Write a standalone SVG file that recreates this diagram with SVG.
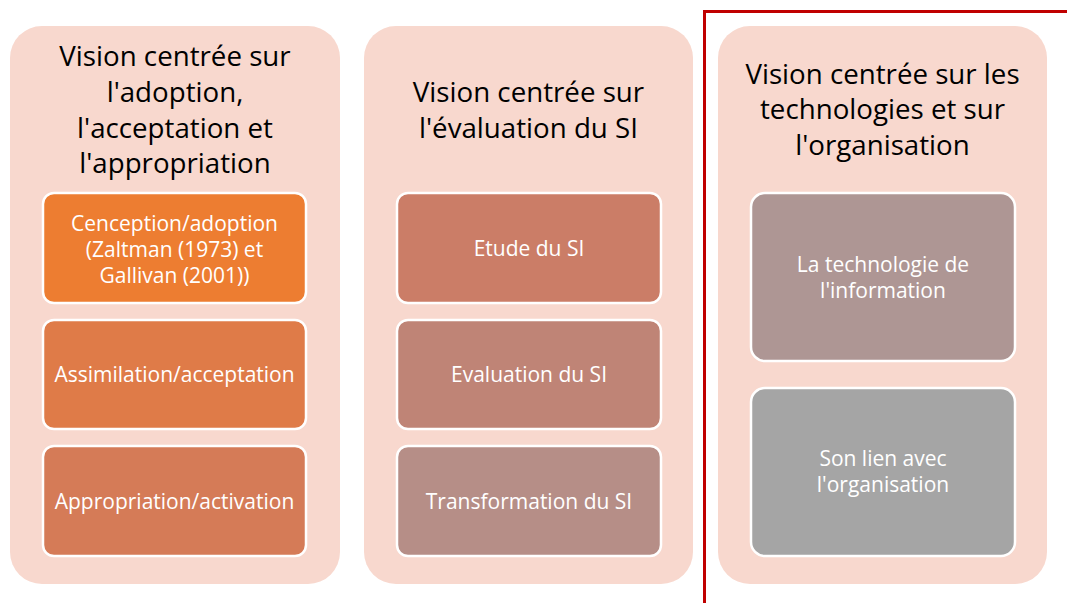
<svg xmlns="http://www.w3.org/2000/svg" width="1067" height="603" viewBox="0 0 1067 603">
<style>
.panel{fill:#F8D8CE}
.box{stroke:#FFFFFF;stroke-width:2.5}
.title{font-family:"Open Sans",Lato,sans-serif;font-size:27.7px;fill:#000;text-anchor:middle}
.lbl{font-family:"Open Sans",Lato,sans-serif;font-size:21px;fill:#FFFFFF;text-anchor:middle}
</style>
<rect width="1067" height="603" fill="#FFFFFF"/>
<g id="col1">
<rect class="panel" x="10" y="26" width="330" height="558" rx="32"/>
<text class="title"><tspan x="175" y="66">Vision centrée sur</tspan><tspan x="175" y="102">l'adoption,</tspan><tspan x="175" y="138">l'acceptation et</tspan><tspan x="175" y="173">l'appropriation</tspan></text>
</g>
<g id="n1a"><rect class="box" x="43" y="193" width="263" height="110" rx="11" fill="#ED7D31"/>
<text class="lbl"><tspan x="174.5" y="231">Cenception/adoption</tspan><tspan x="174.5" y="257">(Zaltman (1973) et</tspan><tspan x="174.5" y="283">Gallivan (2001))</tspan></text></g>
<g id="n1b"><rect class="box" x="43" y="320" width="263" height="109" rx="11" fill="#DF7B48"/>
<text class="lbl" x="174.5" y="382">Assimilation/acceptation</text></g>
<g id="n1c"><rect class="box" x="43" y="446" width="263" height="110" rx="11" fill="#D57B57"/>
<text class="lbl" x="174.5" y="509">Appropriation/activation</text></g>
<g id="col2">
<rect class="panel" x="364" y="26" width="329" height="558" rx="32"/>
<text class="title"><tspan x="528.5" y="102">Vision centrée sur</tspan><tspan x="528.5" y="138">l'évaluation du SI</tspan></text>
</g>
<g id="n2a"><rect class="box" x="397" y="193" width="264" height="110" rx="11" fill="#CB7D67"/>
<text class="lbl" x="529" y="256">Etude du SI</text></g>
<g id="n2b"><rect class="box" x="397" y="320" width="264" height="109" rx="11" fill="#BF8476"/>
<text class="lbl" x="529" y="382">Evaluation du SI</text></g>
<g id="n2c"><rect class="box" x="397" y="446" width="264" height="110" rx="11" fill="#B68E87"/>
<text class="lbl" x="529" y="509">Transformation du SI</text></g>
<g id="col3">
<rect class="panel" x="718" y="26" width="329" height="558" rx="32"/>
<text class="title"><tspan x="882.5" y="84">Vision centrée sur les</tspan><tspan x="882.5" y="119">technologies et sur</tspan><tspan x="882.5" y="155">l'organisation</tspan></text>
</g>
<g id="n3a"><rect class="box" x="751" y="193" width="264" height="168" rx="14" fill="#AE9694"/>
<text class="lbl"><tspan x="883" y="272">La technologie de</tspan><tspan x="883" y="298">l'information</tspan></text></g>
<g id="n3b"><rect class="box" x="751" y="388" width="264" height="168" rx="14" fill="#A5A5A5"/>
<text class="lbl"><tspan x="883" y="466">Son lien avec</tspan><tspan x="883" y="492">l'organisation</tspan></text></g>
<g id="connectors">
<path d="M704.5 603 V11.5 H1067" fill="none" stroke="#C00000" stroke-width="3"/>
</g>
</svg>
